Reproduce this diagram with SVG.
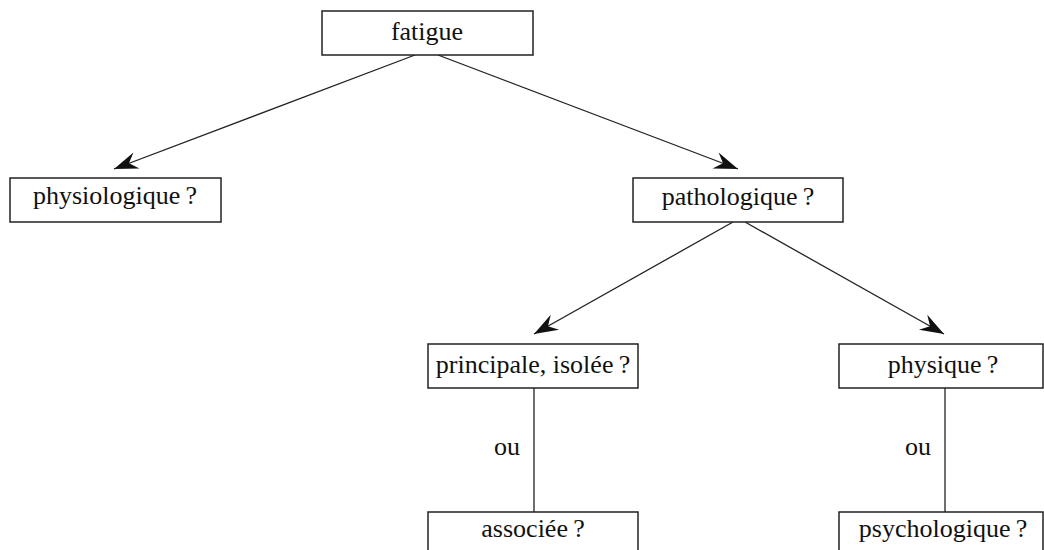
<svg xmlns="http://www.w3.org/2000/svg" width="1044" height="550" viewBox="0 0 1044 550">
<style>
.box{fill:#fff;stroke:#222;stroke-width:1.5}
.lbl{font-family:"Liberation Serif","Times New Roman",serif;font-size:26px;fill:#111;text-anchor:middle}
.edge{stroke:#222;stroke-width:1.3;fill:none}
</style>
<defs>
<marker id="ah" markerUnits="userSpaceOnUse" markerWidth="30" markerHeight="22" viewBox="-26 -11 28 22" refX="0" refY="0" orient="auto">
<path d="M0,0 L-24,-8.5 L-16,0 L-24,8.5 Z" fill="#111"/>
</marker>
</defs>
<rect width="1044" height="550" fill="#fff"/>
<g id="connectors">
<line class="edge" x1="415" y1="55" x2="114" y2="169" marker-end="url(#ah)"/>
<line class="edge" x1="438" y1="55" x2="738" y2="169" marker-end="url(#ah)"/>
<line class="edge" x1="733" y1="222" x2="534" y2="334" marker-end="url(#ah)"/>
<line class="edge" x1="745" y1="222" x2="944" y2="334" marker-end="url(#ah)"/>
<line class="edge" x1="534" y1="388" x2="534" y2="512"/>
<line class="edge" x1="945" y1="388" x2="945" y2="512"/>
<text class="lbl" x="507" y="455">ou</text>
<text class="lbl" x="918" y="455">ou</text>
</g>
<g id="fatigue">
<rect class="box" x="322" y="11" width="211" height="44"/>
<text class="lbl" x="427" y="40">fatigue</text>
</g>
<g id="physiologique">
<rect class="box" x="10" y="178" width="211" height="44"/>
<text class="lbl" x="115" y="204">physiologique&#x202F;?</text>
</g>
<g id="pathologique">
<rect class="box" x="633" y="178" width="210" height="44"/>
<text class="lbl" x="738" y="205">pathologique&#x202F;?</text>
</g>
<g id="principale">
<rect class="box" x="428" y="344" width="210" height="44"/>
<text class="lbl" x="533" y="373">principale, isolée&#x202F;?</text>
</g>
<g id="physique">
<rect class="box" x="839" y="344" width="204" height="44"/>
<text class="lbl" x="943" y="373">physique&#x202F;?</text>
</g>
<g id="associee">
<rect class="box" x="428" y="512" width="210" height="44"/>
<text class="lbl" x="533" y="537">associée&#x202F;?</text>
</g>
<g id="psychologique">
<rect class="box" x="839" y="512" width="204" height="44"/>
<text class="lbl" x="943" y="537">psychologique&#x202F;?</text>
</g>
</svg>
